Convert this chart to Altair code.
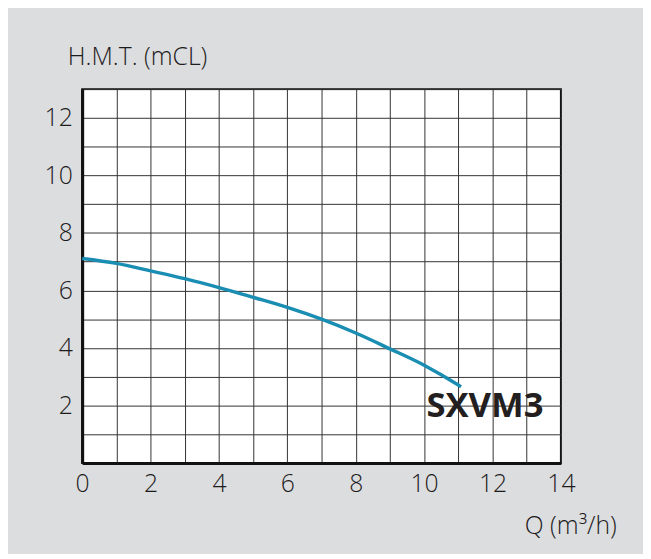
import altair as alt
import pandas as pd

q = [0, 1, 2, 3, 4, 5, 6, 7, 8, 9, 10, 11, 11.08]
h = [7.11, 6.94, 6.68, 6.41, 6.10, 5.76, 5.41, 5.00, 4.52, 3.97, 3.40, 2.71, 2.65]

label_text = ["SXVM3"]
label_q = [11.78]
label_h = [1.97]

x_ticks = list(range(0, 15))
y_ticks = list(range(0, 14))

df = pd.DataFrame({"q": q, "h": h})
lab = pd.DataFrame({"t": label_text, "q": label_q, "h": label_h})

FONT = "Open Sans"

xenc = alt.X("q:Q", scale=alt.Scale(domain=[0, 14], nice=False, zero=False),
             axis=alt.Axis(values=x_ticks, title="Q (m³/h)",
                           labelExpr="datum.value % 2 == 0 ? datum.label : ''",
                           labelFlush=False,
                           titleAngle=0, titleAlign="left", titleBaseline="alphabetic",
                           titleX=447, titleY=71))
yenc = alt.Y("h:Q", scale=alt.Scale(domain=[0, 13], nice=False, zero=False),
             axis=alt.Axis(values=y_ticks, title="H.M.T. (mCL)",
                           labelExpr="datum.value % 2 == 0 && datum.value > 0 ? datum.label : ''",
                           labelFlush=False,
                           titleAngle=0, titleAlign="left", titleBaseline="alphabetic",
                           titleX=-15, titleY=-25))

line = alt.Chart(df).mark_line(color="#1a8db3", strokeWidth=3.5, interpolate="monotone").encode(
    x=xenc, y=yenc)

txt = alt.Chart(lab).mark_text(font=FONT, fontSize=35, fontWeight="bold", color="#231f20",
                               align="center", baseline="middle").encode(
    x=xenc, y=yenc, text="t:N")

chart = alt.layer(line, txt).properties(
    width=484, height=378,
    background="#dcdddf",
    padding={"left": 75, "top": 79, "right": 83, "bottom": 89},
    autosize=alt.AutoSizeParams(type="none"),
).configure_view(
    fill="white", stroke="#111111", strokeWidth=2
).configure_axis(
    grid=True, gridColor="#333333", gridWidth=1, gridOpacity=1,
    domainColor="#111111", domainWidth=3,
    ticks=False, labelFont=FONT, labelFontSize=25, labelColor="#1e1b1c",
    labelFontWeight=300, labelOverlap=False,
    titleFont=FONT, titleFontSize=25, titleColor="#1e1b1c", titleFontWeight=300,
).configure_axisX(labelPadding=9).configure_axisY(labelPadding=10)

chart.save("out.html", embed_options={"renderer": "svg", "actions": False})
